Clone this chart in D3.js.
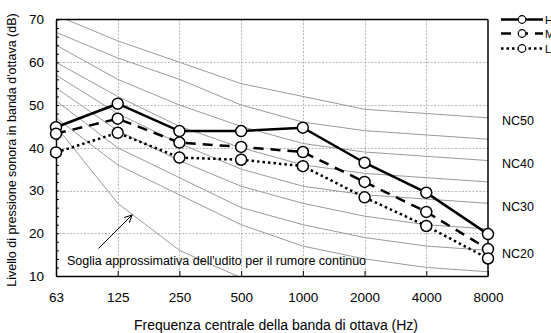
<!DOCTYPE html>
<html><head><meta charset="utf-8">
<script src="https://cdn.jsdelivr.net/npm/d3@7/dist/d3.min.js"></script>
<style>
body{margin:0;background:#fff;}
svg{display:block;font-family:"Liberation Sans",Arial,sans-serif;}
</style></head>
<body><svg id="c" width="551" height="333"></svg>
<script>
const categories = ["63","125","250","500","1000","2000","4000","8000"];
const seriesNames = ["H","M","L"];
const valuesH = [44.8, 50.3, 43.9, 43.9, 44.7, 36.5, 29.5, 19.8];
const valuesM = [43.3, 46.8, 41.2, 40.2, 39.0, 32.0, 25.0, 16.3];
const valuesL = [38.9, 43.5, 37.7, 37.2, 35.7, 28.4, 21.7, 14.1];
const nc15 = [47, 36, 29, 22, 17, 14, 12, 11];
const nc20 = [51, 40, 33, 26, 22, 19, 17, 16];
const nc25 = [54, 44, 37, 31, 27, 24, 22, 21];
const nc30 = [57, 48, 41, 35, 31, 29, 28, 27];
const nc35 = [60, 52, 45, 40, 36, 34, 33, 32];
const nc40 = [64, 56, 50, 45, 41, 39, 38, 37];
const nc45 = [67, 61, 56, 50, 46, 44, 43, 42];
const nc50 = [71, 65, 60, 55, 52, 49, 48, 47];
const thresholdCats = ["63","125","250","500"];
const thresholdVals = [45, 27, 16, 9.6];
const ncLabels = ["NC50","NC40","NC30","NC20"];
const ncLabelVals = [47, 37, 27, 16];
const yTicks = [10,20,30,40,50,60,70];
const annotation = "Soglia approssimativa dell'udito per il rumore continuo";
const xTitle = "Frequenza centrale della banda di ottava (Hz)";
const yTitle = "Livello di pressione sonora in banda d'ottava (dB)";

const L = 56, R = 488, T = 19.5, B = 276;
const svg = d3.select("#c");
const x = d3.scalePoint().domain(categories).range([L, R]);
const y = d3.scaleLinear().domain([10, 70]).range([B, T]);

svg.append("defs").append("clipPath").attr("id","plot")
  .append("rect").attr("x",L).attr("y",T).attr("width",R-L).attr("height",B-T);

// gridlines
const grid = svg.append("g").attr("stroke","#b8b8b8").attr("stroke-width",1).attr("stroke-dasharray","2,1.5");
yTicks.filter(v => v > 10 && v < 70).forEach(v => {
  grid.append("line").attr("x1",L).attr("x2",R).attr("y1",Math.round(y(v))+0.5).attr("y2",Math.round(y(v))+0.5);
});
categories.slice(1,-1).forEach(c => {
  grid.append("line").attr("x1",Math.round(x(c))+0.5).attr("x2",Math.round(x(c))+0.5).attr("y1",T).attr("y2",B);
});

// NC curves
const ncCurves = [nc15,nc20,nc25,nc30,nc35,nc40,nc45,nc50];
const line = d3.line().x((d,i)=>x(categories[i])).y(d=>y(d));
const gNC = svg.append("g").attr("clip-path","url(#plot)");
ncCurves.forEach(arr => {
  gNC.append("path").attr("d", line(arr)).attr("fill","none").attr("stroke","#9a9a9a").attr("stroke-width",1);
});
const tline = d3.line().x((d,i)=>x(thresholdCats[i])).y(d=>y(d));
gNC.append("path").attr("d", tline(thresholdVals)).attr("fill","none").attr("stroke","#9a9a9a").attr("stroke-width",1);

// axes
const yAxis = d3.axisLeft(y).tickValues(d3.range(10, 71, 2)).tickSize(-3).tickSizeOuter(0).tickPadding(12)
  .tickFormat(d => d % 10 === 0 ? d : "");
const gy = svg.append("g").attr("transform",`translate(${L},0)`).call(yAxis);
gy.selectAll("text").attr("font-size","13.5px").attr("fill","#000").attr("font-family","Liberation Sans, Arial, sans-serif");
gy.select(".domain").attr("stroke-width",1.5);
const xAxis = d3.axisBottom(x).tickSize(-5).tickSizeOuter(0).tickPadding(16);
const gx = svg.append("g").attr("transform",`translate(0,${B})`).call(xAxis);
gx.selectAll("text").attr("font-size","13.5px").attr("fill","#000").attr("font-family","Liberation Sans, Arial, sans-serif");
gx.select(".domain").attr("stroke-width",1.5);

// frame top/right
svg.append("line").attr("x1",L).attr("x2",R).attr("y1",T).attr("y2",T).attr("stroke","#000").attr("stroke-width",1.5);
svg.append("line").attr("x1",R).attr("x2",R).attr("y1",T).attr("y2",B).attr("stroke","#000").attr("stroke-width",1.5);

// series
const series = [
  {name: seriesNames[0], vals: valuesH, dash: null},
  {name: seriesNames[1], vals: valuesM, dash: "10,7"},
  {name: seriesNames[2], vals: valuesL, dash: "2.5,3"}
];
series.forEach(s => {
  svg.append("path").attr("d", line(s.vals)).attr("fill","none").attr("stroke","#000")
    .attr("stroke-width",2.5).attr("stroke-dasharray", s.dash);
});
series.forEach(s => {
  svg.append("g").selectAll("circle").data(s.vals).join("circle")
    .attr("cx",(d,i)=>x(categories[i])).attr("cy",d=>y(d)).attr("r",5.5)
    .attr("fill","#fff").attr("stroke","#000").attr("stroke-width",1.5);
});

// NC labels
ncLabels.forEach((t,i) => {
  svg.append("text").attr("x",502).attr("y",y(ncLabelVals[i])+7.5).attr("font-size","12.5px").text(t);
});

// legend
const legY = [19.5, 33.5, 48.5];
series.forEach((s,i) => {
  svg.append("line").attr("x1",501).attr("x2",543).attr("y1",legY[i]).attr("y2",legY[i])
    .attr("stroke","#000").attr("stroke-width",2.5).attr("stroke-dasharray", s.dash);
  svg.append("circle").attr("cx",522).attr("cy",legY[i]).attr("r",3.8).attr("fill","#fff").attr("stroke","#000").attr("stroke-width",1.2);
  svg.append("text").attr("x",545).attr("y",legY[i]+4).attr("font-size","11px").text(s.name);
});

// annotation
svg.append("text").attr("x",67).attr("y",265).attr("font-size","12.5px").text(annotation);
svg.append("defs").append("marker").attr("id","arr").attr("viewBox","0 0 10 10").attr("refX",9).attr("refY",5)
  .attr("markerWidth",9).attr("markerHeight",9).attr("orient","auto")
  .append("path").attr("d","M1,1 L9,5 L1,9").attr("fill","none").attr("stroke","#000").attr("stroke-width",1.2);
svg.append("line").attr("x1",98.5).attr("y1",248.5).attr("x2",132).attr("y2",215).attr("stroke","#000").attr("stroke-width",1)
  .attr("marker-end","url(#arr)");

// titles
svg.append("text").attr("x",(L+R)/2 + 4).attr("y",330).attr("text-anchor","middle").attr("font-size","14px").text(xTitle);
svg.append("text").attr("transform",`translate(16,150) rotate(-90)`).attr("text-anchor","middle").attr("font-size","12.5px").text(yTitle);
</script></body></html>
